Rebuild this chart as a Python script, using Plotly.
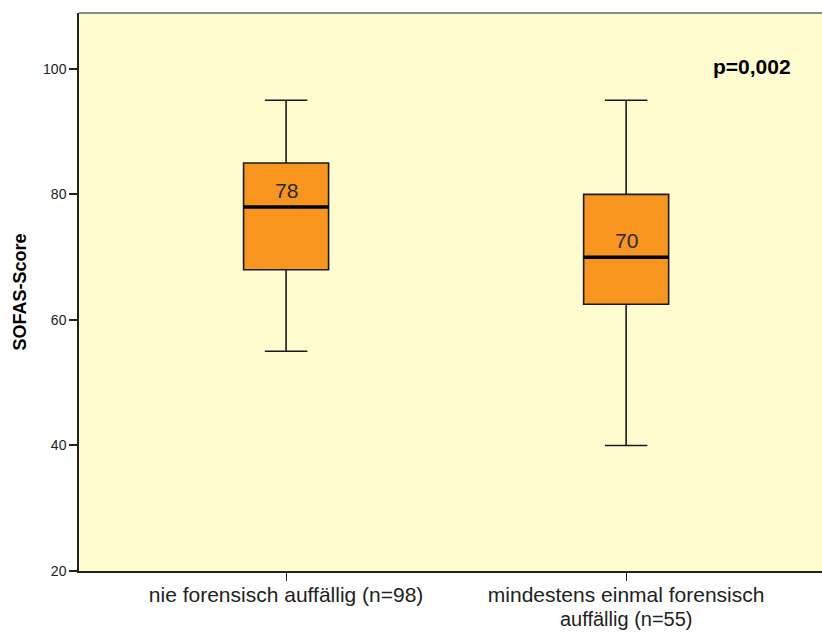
import plotly.graph_objects as go

# SOFAS scores by forensic history
categories = ["nie forensisch auffällig (n=98)",
              "mindestens einmal forensisch"]
category_second_line = ["", "auffällig (n=55)"]
lower_whisker = [55, 40]
q1 = [68, 62.5]
median = [78, 70]
q3 = [85, 80]
upper_whisker = [95, 95]
y_ticks = [20, 40, 60, 80, 100]
p_value_text = "p=0,002"

FONT = "Arial, Liberation Sans, sans-serif"
ORANGE = "#F7951E"
BOX_HALF = 0.125

xpos = list(range(len(categories)))

fig = go.Figure()

fig.add_trace(go.Box(
    x=xpos, q1=q1, median=median, q3=q3,
    lowerfence=lower_whisker, upperfence=upper_whisker,
    fillcolor=ORANGE,
    line=dict(color="#1a1a1a", width=1.6),
    width=2 * BOX_HALF, whiskerwidth=0.5,
    boxpoints=False, hoverinfo="skip", showlegend=False,
))

# thick median bars drawn on top of each box
for i, m in zip(xpos, median):
    fig.add_trace(go.Scatter(
        x=[i - BOX_HALF, i + BOX_HALF], y=[m, m], mode="lines",
        line=dict(color="black", width=3.5),
        hoverinfo="skip", showlegend=False,
    ))
    fig.add_annotation(
        x=i, y=m, text=str(m), showarrow=False, yanchor="bottom", yshift=3,
        font=dict(family=FONT, size=21, color="#2a2a2a"),
    )

# second line of wrapped category labels, set tight under the tick label
for i, extra in zip(xpos, category_second_line):
    if extra:
        fig.add_annotation(
            x=i, y=0, yref="paper", text=extra, showarrow=False,
            yanchor="middle", yshift=-48,
            font=dict(family=FONT, size=20, color="#222222"),
        )

fig.add_annotation(
    x=0.961, y=0.905, xref="paper", yref="paper", text=f"<b>{p_value_text}</b>",
    showarrow=False, xanchor="right", yanchor="middle",
    font=dict(family=FONT, size=21, color="black"),
)

# grey frame line along the top of the plot area
fig.add_shape(type="line", xref="paper", yref="paper", x0=0, x1=1, y0=1, y1=1,
              line=dict(color="#8a8a8a", width=2))

fig.update_layout(
    width=822, height=632,
    margin=dict(l=79, r=0, t=13, b=61),
    paper_bgcolor="white", plot_bgcolor="#FFFCCF",
    font=dict(family=FONT, color="#222222"),
    xaxis=dict(
        range=[-0.609, 1.576], tickvals=xpos, ticktext=categories,
        ticks="outside", ticklen=8, tickcolor="#222222", tickwidth=1,
        ticklabelstandoff=-4,
        showgrid=False, zeroline=False,
        showline=True, linecolor="#222222", linewidth=1.5,
        tickfont=dict(family=FONT, size=21, color="#222222"),
    ),
    yaxis=dict(
        range=[20, 108.9], tickvals=y_ticks,
        ticks="outside", ticklen=8, tickcolor="#222222", tickwidth=1.5,
        showgrid=False, zeroline=False,
        showline=True, linecolor="#222222", linewidth=1.5,
        tickfont=dict(family=FONT, size=14, color="#222222"),
        title=dict(text="<b>SOFAS-Score</b>", standoff=12,
                   font=dict(family=FONT, size=18, color="black")),
    ),
)

fig.write_html("out.html")
